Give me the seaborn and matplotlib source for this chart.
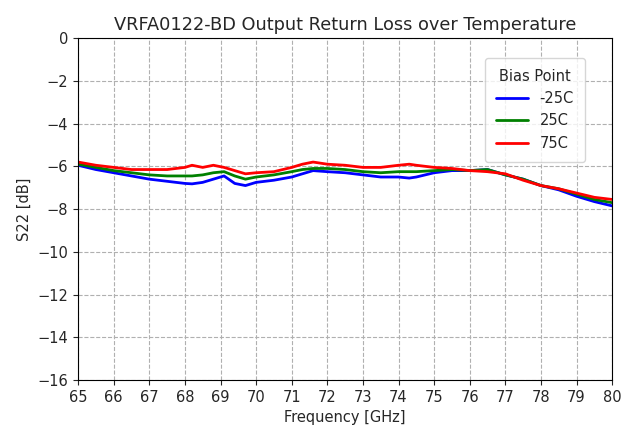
import matplotlib
matplotlib.use("Agg")
import matplotlib.pyplot as plt
import pandas as pd
import seaborn as sns

freq = [65, 65.5, 66, 66.5, 67, 67.5, 68, 68.2, 68.5, 68.8, 69.1, 69.4, 69.7, 70,
        70.5, 71, 71.3, 71.6, 72, 72.5, 73, 73.5, 74, 74.3, 74.5, 75, 75.5, 76,
        76.5, 77, 77.5, 78, 78.5, 79, 79.5, 80]

s22_m25 = [-5.95, -6.15, -6.3, -6.45, -6.6, -6.7, -6.8, -6.82, -6.75, -6.6, -6.45,
           -6.8, -6.9, -6.75, -6.65, -6.5, -6.35, -6.2, -6.25, -6.3, -6.4, -6.5,
           -6.5, -6.55, -6.5, -6.3, -6.2, -6.2, -6.15, -6.4, -6.6, -6.9, -7.1,
           -7.4, -7.65, -7.85]
s22_25 = [-5.9, -6.05, -6.2, -6.3, -6.4, -6.45, -6.45, -6.45, -6.4, -6.3, -6.25,
          -6.45, -6.6, -6.5, -6.4, -6.25, -6.15, -6.1, -6.1, -6.15, -6.25, -6.3,
          -6.25, -6.25, -6.25, -6.2, -6.15, -6.2, -6.15, -6.4, -6.6, -6.9, -7.05,
          -7.3, -7.55, -7.7]
s22_75 = [-5.8, -5.95, -6.05, -6.15, -6.15, -6.15, -6.05, -5.95, -6.05, -5.95, -6.05,
          -6.2, -6.35, -6.3, -6.25, -6.05, -5.9, -5.8, -5.9, -5.95, -6.05, -6.05,
          -5.95, -5.9, -5.95, -6.05, -6.1, -6.2, -6.25, -6.35, -6.65, -6.9, -7.05,
          -7.25, -7.45, -7.55]

bias = ["-25C", "25C", "75C"]
colors = ["blue", "green", "red"]

df = pd.concat([
    pd.DataFrame({"Frequency": freq, "S22": vals, "Bias Point": b})
    for b, vals in zip(bias, [s22_m25, s22_25, s22_75])
])

sns.set_style("white")
fig, ax = plt.subplots(figsize=(6.35, 4.28), dpi=100)
fig.subplots_adjust(left=0.123, right=0.964, top=0.911, bottom=0.112)

sns.lineplot(data=df, x="Frequency", y="S22", hue="Bias Point",
             palette=dict(zip(bias, colors)), linewidth=2, ax=ax)

ax.set_xlim(65, 80)
ax.set_ylim(-16, 0)
ax.set_xticks(range(65, 81))
ax.set_yticks(range(-16, 1, 2))
ax.grid(True, linestyle="--", color="#b0b0b0", linewidth=0.8)
for s in ax.spines.values():
    s.set_color("black")
ax.tick_params(axis="both", direction="out", length=3.5, width=0.8, labelsize=10.5, left=True, bottom=True)
ax.set_xlabel("Frequency [GHz]", fontsize=10.5)
ax.set_ylabel("S22 [dB]", fontsize=10.5)
ax.set_title("VRFA0122-BD Output Return Loss over Temperature", fontsize=12.8)
ax.legend(title="Bias Point", loc="upper right", bbox_to_anchor=(0.949, 0.942),
          borderaxespad=0, borderpad=0.75, fontsize=10.5, title_fontsize=10.5,
          handlelength=2.2)

plt.savefig("out.png", dpi=100)
